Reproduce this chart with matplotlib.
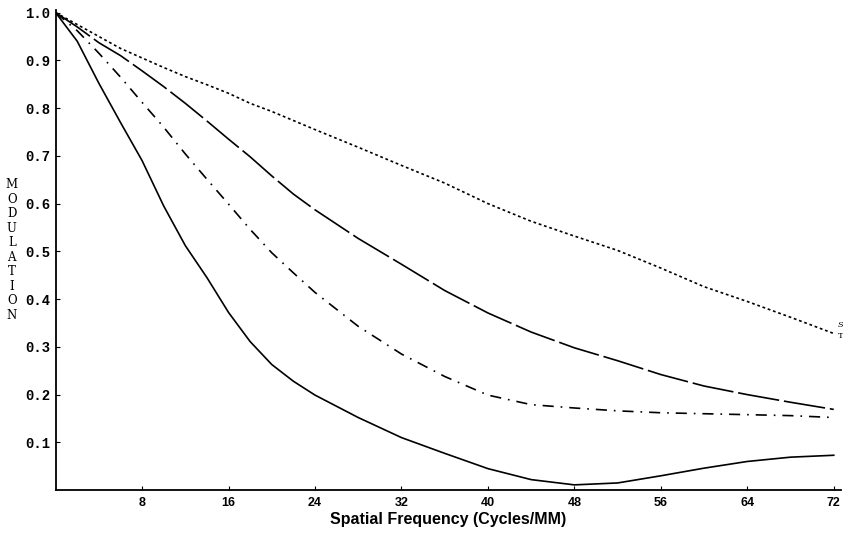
import matplotlib
matplotlib.use("Agg")
import matplotlib.pyplot as plt

plt.rcParams['lines.scale_dashes'] = False

# spatial frequency (cycles/mm)
freq = [0, 2, 4, 6, 8, 10, 12, 14, 16, 18, 20, 22, 24, 28, 32, 36, 40, 44, 48, 52, 56, 60, 64, 68, 72]

solid = [1.0, 0.94, 0.852, 0.77, 0.69, 0.595, 0.512, 0.445, 0.372, 0.311, 0.263, 0.228, 0.199,
         0.152, 0.110, 0.077, 0.045, 0.022, 0.011, 0.015, 0.030, 0.046, 0.060, 0.069, 0.073]
long_dash = [1.0, 0.97, 0.937, 0.91, 0.878, 0.845, 0.81, 0.773, 0.735, 0.698, 0.658, 0.62, 0.587,
             0.527, 0.473, 0.418, 0.371, 0.331, 0.298, 0.271, 0.242, 0.218, 0.200, 0.184, 0.169]
dash_dot = [1.0, 0.962, 0.915, 0.865, 0.812, 0.76, 0.704, 0.651, 0.599, 0.546, 0.497, 0.455, 0.414,
            0.343, 0.285, 0.238, 0.199, 0.179, 0.172, 0.166, 0.162, 0.160, 0.158, 0.156, 0.152]
dotted = [1.0, 0.975, 0.95, 0.925, 0.905, 0.885, 0.866, 0.849, 0.831, 0.81, 0.793, 0.774, 0.755,
          0.718, 0.68, 0.643, 0.600, 0.563, 0.532, 0.502, 0.465, 0.426, 0.395, 0.362, 0.328]

xticks = [8, 16, 24, 32, 40, 48, 56, 64, 72]
yticks = [0.1, 0.2, 0.3, 0.4, 0.5, 0.6, 0.7, 0.8, 0.9, 1.0]

fig = plt.figure(figsize=(8.43, 5.38), dpi=100)
ax = fig.add_axes([0.066, 0.089, 0.932, 0.892])

ax.plot(freq, solid, color='black', lw=1.2, linestyle='-')
ax.plot(freq, long_dash, color='black', lw=1.2, linestyle=(0, (30, 3.5)))
ax.plot(freq, dash_dot, color='black', lw=1.2, linestyle=(0, (8, 5, 1.2, 5)))
ax.plot(freq, dotted, color='black', lw=1.2, linestyle=(0, (2, 2)))

ax.text(72.4, 0.345, 'S', fontsize=6, family='DejaVu Serif', style='italic', ha='left', va='center')
ax.text(72.4, 0.322, 'T', fontsize=6, family='DejaVu Serif', ha='left', va='center')

ax.set_xlim(0, 72.7)
ax.set_ylim(0, 1.005)

ax.spines['top'].set_visible(False)
ax.spines['right'].set_visible(False)
ax.spines['left'].set_linewidth(1.3)
ax.spines['bottom'].set_linewidth(1.3)

ax.set_xticks(xticks)
ax.set_xticklabels([str(t) for t in xticks], fontsize=9, fontweight='bold', family='Liberation Sans')
ax.set_yticks(yticks)
ax.set_yticklabels([f'{t:.1f}' for t in yticks], fontsize=10, fontweight='bold', family='Liberation Mono')
ax.tick_params(axis='both', direction='in', length=3, width=0.8)
ax.tick_params(axis='x', pad=5)
ax.tick_params(axis='y', pad=4)

ax.set_xlabel('Spatial Frequency (Cycles/MM)', fontsize=11.5, fontweight='bold',
              family='Liberation Sans', labelpad=2)

fig.text(0.014, 0.535, '\n'.join('MODULATION'), fontsize=8.5, family='DejaVu Serif',
         ha='center', va='center', linespacing=1.15)

fig.savefig('out.png', dpi=100)
